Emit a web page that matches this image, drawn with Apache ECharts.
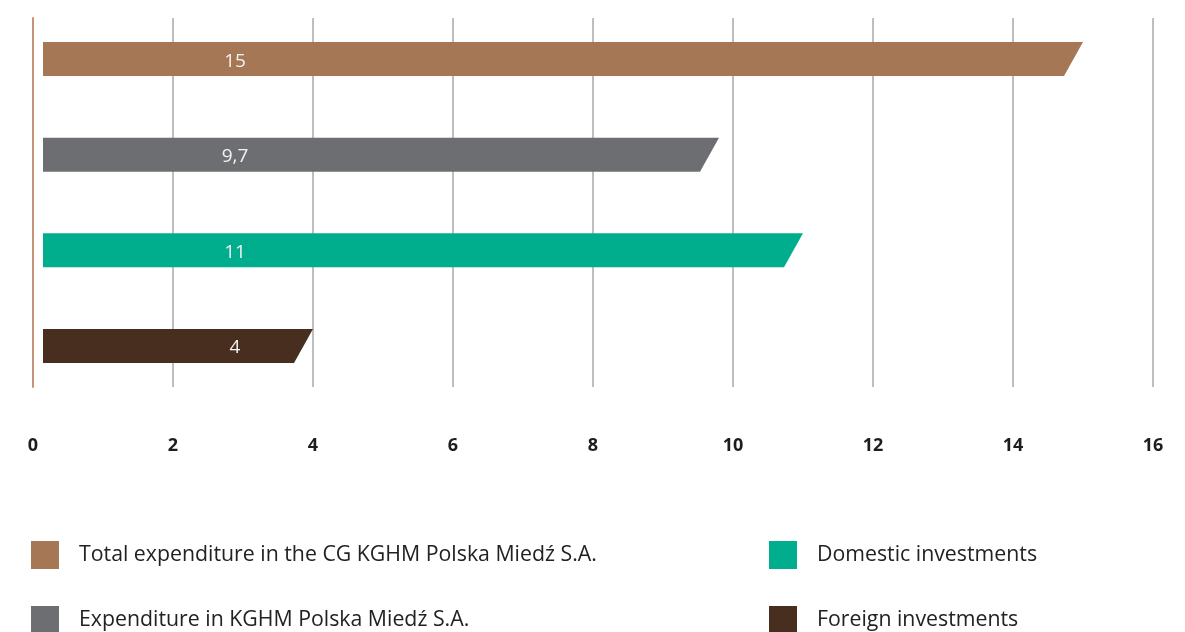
<!DOCTYPE html>
<html>
<head>
<meta charset="utf-8">
<script src="https://cdn.jsdelivr.net/npm/echarts@6/dist/echarts.min.js"></script>
<style>
html,body{margin:0;padding:0;background:#fff;}
#chart{width:1185px;height:632px;}
</style>
</head>
<body>
<div id="chart"></div>
<script>
const seriesNames = [
  'Total expenditure in the CG KGHM Polska Miedź S.A.',
  'Expenditure in KGHM Polska Miedź S.A.',
  'Domestic investments',
  'Foreign investments'
];
const barValues = [15, 9.8, 11, 4];
const barLabels = ['15', '9,7', '11', '4'];
const barColors = ['#a57755', '#6d6e71', '#00ae8e', '#472e1e'];
const xTicks = [0, 2, 4, 6, 8, 10, 12, 14, 16];

const chart = echarts.init(document.getElementById('chart'));

const series = seriesNames.map((name, i) => ({
  name: name,
  type: 'custom',
  itemStyle: { color: barColors[i] },
  data: [[barValues[i], i]],
  renderItem: function (params, api) {
    const yv = api.value(1);
    const start = api.coord([0, yv]);
    const end = api.coord([api.value(0), yv]);
    const h = 34, slant = 19, x0 = start[0] + 10;
    const yc = start[1];
    return {
      type: 'group',
      children: [
        {
          type: 'polygon',
          shape: { points: [[x0, yc - h / 2], [end[0], yc - h / 2], [end[0] - slant, yc + h / 2], [x0, yc + h / 2]] },
          style: { fill: barColors[i] }
        },
        {
          type: 'text',
          style: {
            text: barLabels[i], x: start[0] + 202, y: yc + 2,
            align: 'center', verticalAlign: 'middle',
            fill: '#f2f2f2', font: '19px "Open Sans"'
          }
        }
      ]
    };
  }
}));

const legendPos = [[31, 541], [31, 606], [769, 541], [769, 606]];
const legends = seriesNames.map((name, i) => ({
  data: [name], orient: 'horizontal',
  left: legendPos[i][0], top: legendPos[i][1], padding: 0,
  icon: 'rect', itemWidth: 28, itemHeight: 28,
  selectedMode: false,
  textStyle: { fontSize: 21.3, color: '#222', fontFamily: 'Open Sans', padding: [3, 0, 0, 15] }
}));

chart.setOption({
  animation: false,
  grid: { left: 33, right: 32, top: 18, bottom: 245 },
  xAxis: {
    type: 'value', min: 0, max: 16, interval: 2,
    axisLine: { show: false }, axisTick: { show: false },
    splitLine: { show: true, lineStyle: { color: '#a8a8a8', width: 1.5 } },
    axisLabel: {
      margin: 50, color: '#1d1d1d', fontSize: 18, fontWeight: 'bold',
      fontFamily: 'Open Sans',
      formatter: v => xTicks.includes(v) ? String(v) : ''
    }
  },
  yAxis: {
    type: 'value', inverse: true, min: -0.43, max: 3.43,
    axisLine: { show: true, lineStyle: { color: '#c49378', width: 2 } },
    axisTick: { show: false }, axisLabel: { show: false }, splitLine: { show: false }
  },
  legend: legends,
  series: series
});
</script>
</body>
</html>
